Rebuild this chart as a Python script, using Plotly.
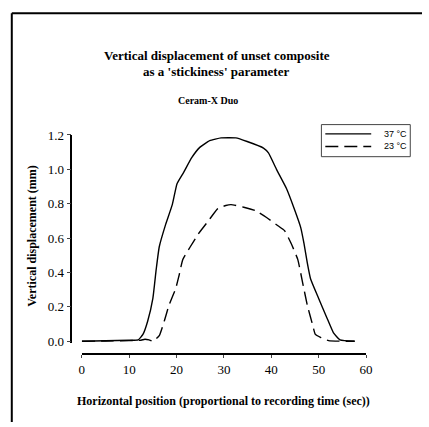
import plotly.graph_objects as go

# Data
x_37 = [0, 5, 10, 11.9, 12.9, 13.9, 15.0, 15.7, 16.35, 17.7, 19.1, 20.1, 21.5, 23.2,
        24.9, 27.0, 29.4, 32.5, 34.9, 38.35, 39.4, 41.1, 43.2, 44.9, 46.2, 46.9,
        47.6, 48.3, 50.0, 51.75, 53.1, 54.5, 57.6]
y_37 = [0, 0.003, 0.006, 0.008, 0.04, 0.117, 0.25, 0.418, 0.55, 0.68, 0.795, 0.917,
        0.983, 1.068, 1.128, 1.167, 1.183, 1.183, 1.162, 1.124, 1.096, 1.0, 0.889,
        0.767, 0.663, 0.569, 0.456, 0.362, 0.249, 0.136, 0.051, 0.008, 0.0]

x_23 = [0, 5, 10, 12.5, 13.3, 14.2, 15.0, 16.35, 17.4, 18.4, 19.8, 20.5, 21.3, 22.9,
        24.6, 26.7, 28.7, 30.4, 31.5, 34.2, 36.6, 39.0, 41.4, 42.8, 44.2, 45.6,
        46.6, 47.6, 48.7, 49.3, 50.4, 52.1, 57.6]
y_23 = [0, 0.002, 0.004, 0.006, 0.012, 0.008, 0.0, 0.033, 0.117, 0.21, 0.305, 0.38,
        0.475, 0.55, 0.625, 0.70, 0.772, 0.79, 0.795, 0.78, 0.761, 0.72, 0.672,
        0.644, 0.569, 0.475, 0.343, 0.21, 0.098, 0.04, 0.023, 0.004, 0.0]

series_names = ["37 \u00b0C", "23 \u00b0C"]
series_dash = ["solid", "13px,6px"]
x_ticks = [0, 10, 20, 30, 40, 50, 60]
y_ticks = [0.0, 0.2, 0.4, 0.6, 0.8, 1.0, 1.2]

title_lines = ["Vertical displacement of unset composite", "as a 'stickiness' parameter"]
subtitle = "Ceram-X Duo"
x_title = "Horizontal position (proportional to recording time (sec))"
y_title = "Vertical displacement (mm)"

W, H = 429, 427
SERIF = "Liberation Serif, Times New Roman, serif"
SANS = "Liberation Sans, Arial, sans-serif"

def px_x(p):
    return p / W

def px_y(p):
    return 1 - p / H

fig = go.Figure()
for xs, ys, nm, dsh in [(x_37, y_37, series_names[0], series_dash[0]),
                        (x_23, y_23, series_names[1], series_dash[1])]:
    fig.add_trace(go.Scatter(x=xs, y=ys, mode="lines", name=nm, showlegend=False,
                             line=dict(color="black", width=1.4, dash=dsh,
                                       shape="spline", smoothing=0.4)))

def txt(text, x, y, size, family=SERIF, bold=True, angle=0, xanchor="center"):
    return dict(text=("<b>%s</b>" % text) if bold else text,
                x=px_x(x), y=px_y(y), xref="paper", yref="paper",
                xanchor=xanchor, yanchor="middle", showarrow=False,
                textangle=angle, font=dict(family=family, size=size, color="black"))

# legend (box, sample lines, labels)
leg_box = dict(type="rect", xref="paper", yref="paper",
               x0=px_x(326), x1=px_x(417), y0=px_y(121), y1=px_y(154),
               line=dict(color="#444444", width=1), fillcolor="white", layer="above")
leg_rows = [130.5, 143.5]
shapes = [
    dict(type="line", xref="paper", yref="paper", x0=px_x(9), x1=1.0,
         y0=px_y(6.5), y1=px_y(6.5), line=dict(color="black", width=2)),
    dict(type="line", xref="paper", yref="paper", x0=px_x(9), x1=px_x(9),
         y0=px_y(6.5), y1=0.0, line=dict(color="black", width=2)),
    leg_box,
]
annotations = [
    txt(title_lines[0], 219, 50, 13),
    txt(title_lines[1], 218, 66, 13),
    txt(subtitle, 210, 96, 10),
    txt(x_title, 225.5, 405, 12),
    txt(y_title, 30, 235, 12, angle=-90),
]
for row, nm, dsh in zip(leg_rows, series_names, series_dash):
    shapes.append(dict(type="line", xref="paper", yref="paper",
                       x0=px_x(330), x1=px_x(377), y0=px_y(row), y1=px_y(row),
                       line=dict(color="black", width=1.4, dash=dsh), layer="above"))
    annotations.append(txt(nm, 388, row, 9, family=SANS, bold=False, xanchor="left"))

fig.update_layout(
    width=W, height=H,
    margin=dict(l=0, r=0, t=0, b=0),
    paper_bgcolor="white", plot_bgcolor="white",
    showlegend=False,
    xaxis=dict(domain=[px_x(80.7), px_x(371.7)], range=[0, 60],
               anchor="free", position=px_y(357.3),
               tickvals=x_ticks, ticks="outside", ticklen=3, tickwidth=1,
               showline=True, linecolor="black", linewidth=1.5,
               showgrid=False, zeroline=False,
               tickfont=dict(family=SERIF, size=13, color="black")),
    yaxis=dict(domain=[px_y(346.1), px_y(131.7)], range=[-0.012, 1.2],
               anchor="free", position=px_x(70),
               tickvals=y_ticks, tickformat=".1f", ticks="outside", ticklen=4,
               tickwidth=1, showline=True, linecolor="black", linewidth=1.5,
               showgrid=False, zeroline=False,
               tickfont=dict(family=SERIF, size=13, color="black")),
    annotations=annotations,
    shapes=shapes,
)

fig.write_html("out.html")
